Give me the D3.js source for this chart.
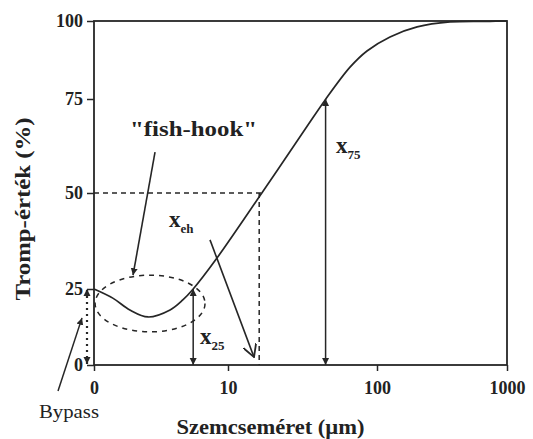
<!DOCTYPE html>
<html>
<head>
<meta charset="utf-8">
<script src="https://cdn.jsdelivr.net/npm/d3@7"></script>
<style>
body { margin: 0; background: #fff; }
text { font-family: "Liberation Serif", "DejaVu Serif", serif; fill: #222; }
</style>
</head>
<body>
<div id="chart"></div>
<script>
// Tromp curve, values
var sizes = [0, 0.4, 0.9, 1.63, 2.9, 3.9, 4.9, 8.0, 17.2, 34.6, 45.6, 66.6, 86, 126, 204, 365, 741, 1000]
var tromp = [25, 22.0, 18.1, 15.8, 18.1, 21.4, 25, 33, 50, 67.7, 74.7, 85.2, 90.4, 94.9, 98.1, 99.7, 99.9, 100]

// axes
var xTicks = [0, 10, 100, 1000]
var yTicks = [0, 25, 50, 75, 100]

// characteristic sizes (µm)
var x25 = 4.9, x50 = 16.5, x75 = 46

// annotation anchors in data units [size, tromp]
var hookFrom = [1.98, 60.9], hookTo = [1.01, 28.6]
var ehFrom = [6.97, 37.8], ehTo = [15.2, 2.6]
var hookBox = [[0.02, 10.9], [6.29, 28.6]]

var width = 533, height = 439

var svg = d3.select("#chart")
    .append("svg")
    .attr("width", width)
    .attr("height", height)

// the axis is stretched unevenly in the original, so each decade gets its own span
var xs = d3.scaleLinear()
    .domain(xTicks.map(Math.log1p))
    .range([94, 228, 377, 507])
function x(v) { return xs(Math.log1p(v)) }

var y = d3.scaleLinear()
    .domain(yTicks)
    .range([365, 289, 193, 99, 21])

var ink = "#262626"

// arrow heads
var defs = svg.append("defs")
defs.append("marker")
    .attr("id", "head")
    .attr("viewBox", "0 0 10 10")
    .attr("refX", 10).attr("refY", 5)
    .attr("markerWidth", 7).attr("markerHeight", 8)
    .attr("markerUnits", "userSpaceOnUse")
    .attr("orient", "auto-start-reverse")
    .append("path")
    .attr("d", "M0,0L10,5L0,10z")
    .attr("fill", ink)
defs.append("marker")
    .attr("id", "open")
    .attr("viewBox", "0 0 10 10")
    .attr("refX", 9).attr("refY", 5)
    .attr("markerWidth", 14).attr("markerHeight", 14)
    .attr("markerUnits", "userSpaceOnUse")
    .attr("orient", "auto")
    .append("path")
    .attr("d", "M0,0L9,5L0,10")
    .attr("fill", "none")
    .attr("stroke", ink)
    .attr("stroke-width", 1.3)

// frame
svg.append("rect")
    .attr("x", x(0)).attr("y", y(100))
    .attr("width", x(1000) - x(0)).attr("height", y(0) - y(100))
    .attr("fill", "none")
    .attr("stroke", ink)
    .attr("stroke-width", 1.8)

var yAxis = svg.append("g")
    .attr("transform", `translate(${x(0)},0)`)
    .call(d3.axisLeft(y).tickValues(yTicks).tickSize(7).tickPadding(4).tickSizeOuter(0))
yAxis.select(".domain").remove()
yAxis.selectAll("line").attr("stroke", ink).attr("stroke-width", 1.5)
yAxis.selectAll("text")
    .style("font-family", '"Liberation Serif", serif')
    .style("font-size", "18px").style("font-weight", "bold").attr("fill", ink)

var xAxis = svg.append("g")
    .attr("transform", `translate(0,${y(0)})`)
    .call(d3.axisBottom(xs).tickValues(xTicks.map(Math.log1p)).tickFormat((d, i) => xTicks[i]).tickSize(6).tickPadding(10).tickSizeOuter(0))
xAxis.select(".domain").remove()
xAxis.selectAll("line").attr("stroke", ink).attr("stroke-width", 1.5)
xAxis.selectAll("text")
    .style("font-family", '"Liberation Serif", serif')
    .style("font-size", "18px").style("font-weight", "bold").attr("fill", ink)

// axis titles
svg.append("text")
    .attr("x", (x(0) + x(1000)) / 2 - 30).attr("y", 434)
    .attr("text-anchor", "middle")
    .attr("textLength", 188).attr("lengthAdjust", "spacingAndGlyphs")
    .style("font-size", "20px").style("font-weight", "bold")
    .text("Szemcseméret (µm)")

svg.append("text")
    .attr("transform", "translate(30,209) rotate(-90)")
    .attr("text-anchor", "middle")
    .attr("textLength", 183).attr("lengthAdjust", "spacingAndGlyphs")
    .style("font-size", "22px").style("font-weight", "bold")
    .text("Tromp-érték (%)")

// 50% guide lines
svg.append("path")
    .attr("d", `M${x(0)},${y(50)}H${x(17.2)}M${x(x50)},${y(50)}V${y(0)}`)
    .attr("fill", "none")
    .attr("stroke", ink)
    .attr("stroke-width", 1.5)
    .attr("stroke-dasharray", "5,4")

// fish-hook ellipse
var bx0 = x(hookBox[0][0]), bx1 = x(hookBox[1][0])
var by0 = y(hookBox[1][1]), by1 = y(hookBox[0][1])
svg.append("ellipse")
    .attr("cx", (bx0 + bx1) / 2).attr("cy", (by0 + by1) / 2)
    .attr("rx", (bx1 - bx0) / 2).attr("ry", (by1 - by0) / 2)
    .attr("fill", "none")
    .attr("stroke", ink)
    .attr("stroke-width", 1.5)
    .attr("stroke-dasharray", "5,5")

// the curve
var pts = sizes.map((s, i) => [x(s), y(tromp[i])])
svg.append("path")
    .attr("d", d3.line().curve(d3.curveCatmullRom.alpha(0.5))(pts))
    .attr("fill", "none")
    .attr("stroke", ink)
    .attr("stroke-width", 1.7)

// x25 and x75 double arrows
;[[x25, 25], [x75, 75]].forEach(function (d) {
    svg.append("line")
        .attr("x1", x(d[0])).attr("x2", x(d[0]))
        .attr("y1", y(0)).attr("y2", y(d[1]))
        .attr("stroke", ink)
        .attr("stroke-width", 1.5)
        .attr("marker-start", "url(#head)")
        .attr("marker-end", "url(#head)")
})

// bypass: dotted double arrow left of the axis
svg.append("line")
    .attr("x1", x(0) - 7).attr("x2", x(0) - 7)
    .attr("y1", y(0) - 1).attr("y2", y(25))
    .attr("stroke", ink)
    .attr("stroke-width", 2.2)
    .attr("stroke-dasharray", "2,4")
    .attr("marker-start", "url(#head)")
    .attr("marker-end", "url(#head)")

svg.append("line")
    .attr("x1", x(0) - 36).attr("y1", y(0) + 26)
    .attr("x2", x(0) - 12).attr("y2", y(15.5))
    .attr("stroke", ink)
    .attr("stroke-width", 1.5)
    .attr("marker-end", "url(#head)")

svg.append("text")
    .attr("x", x(0) - 25).attr("y", 418)
    .attr("text-anchor", "middle")
    .attr("textLength", 60).attr("lengthAdjust", "spacingAndGlyphs")
    .style("font-size", "18px")
    .text("Bypass")

// fish-hook label and arrow
svg.append("text")
    .attr("x", 130).attr("y", 136)
    .attr("textLength", 127).attr("lengthAdjust", "spacingAndGlyphs")
    .style("font-size", "22px").style("font-weight", "bold")
    .text('"fish-hook"')

svg.append("line")
    .attr("x1", x(hookFrom[0])).attr("y1", y(hookFrom[1]))
    .attr("x2", x(hookTo[0])).attr("y2", y(hookTo[1]))
    .attr("stroke", ink)
    .attr("stroke-width", 1.6)
    .attr("marker-end", "url(#head)")

// x_eh arrow
svg.append("line")
    .attr("x1", x(ehFrom[0])).attr("y1", y(ehFrom[1]))
    .attr("x2", x(ehTo[0])).attr("y2", y(ehTo[1]))
    .attr("stroke", ink)
    .attr("stroke-width", 1.6)
    .attr("marker-end", "url(#open)")

// subscripted labels
function subLabel(px, py, sub) {
    var t = svg.append("text").attr("x", px).attr("y", py)
        .style("font-size", "23px").style("font-weight", "bold")
    t.append("tspan").text("x")
    t.append("tspan").attr("dy", 6).style("font-size", "13px").text(sub)
}
subLabel(169, 227, "eh")
subLabel(200, 344, "25")
subLabel(336, 153, "75")
</script>
</body>
</html>
